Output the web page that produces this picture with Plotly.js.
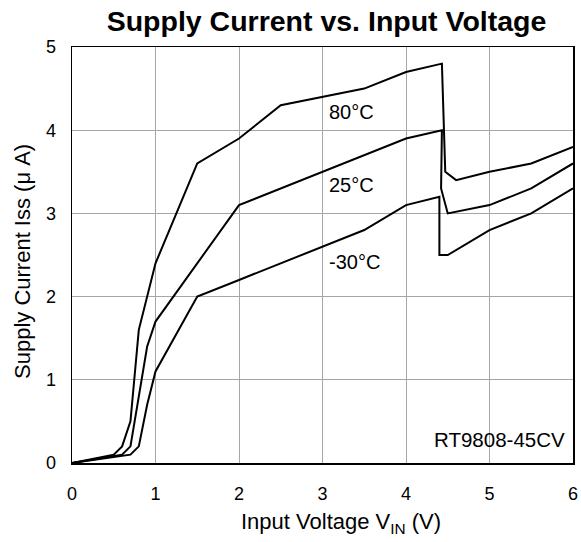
<!DOCTYPE html>
<html>
<head>
<meta charset="utf-8">
<script src="https://cdn.plot.ly/plotly-3.0.1.min.js"></script>
<style>html,body{margin:0;padding:0;background:#fff;}#chart{width:581px;height:542px;}</style>
</head>
<body>
<div id="chart"></div>
<script>
const v80 = [0, 0.5, 0.6, 0.7, 0.8, 1.0, 1.5, 2.0, 2.5, 3.5, 4.0, 4.43, 4.47, 4.6, 5.0, 5.5, 6.0];
const i80 = [0, 0.1, 0.2, 0.5, 1.6, 2.4, 3.6, 3.9, 4.3, 4.5, 4.7, 4.8, 3.5, 3.4, 3.5, 3.6, 3.8];

const v25 = [0, 0.6, 0.7, 0.9, 1.0, 2.0, 4.0, 4.43, 4.42, 4.5, 5.0, 5.5, 6.0];
const i25 = [0, 0.1, 0.2, 1.4, 1.7, 3.1, 3.9, 4.0, 3.3, 3.0, 3.1, 3.3, 3.6];

const vm30 = [0, 0.7, 0.8, 0.9, 1.0, 1.5, 2.0, 3.5, 4.0, 4.4, 4.4, 4.5, 5.0, 5.5, 6.0];
const im30 = [0, 0.1, 0.2, 0.7, 1.1, 2.0, 2.2, 2.8, 3.1, 3.2, 2.5, 2.5, 2.8, 3.0, 3.3];

const curveLabels = ["80°C", "25°C", "-30°C"];
const labelX = [3.05, 3.05, 3.05];
const labelY = [4.22, 3.34, 2.42];
const partName = "RT9808-45CV";
const chartTitle = "Supply Current vs. Input Voltage";
const xTitle = "Input Voltage V<sub>IN</sub> (V)";
const yTitle = "Supply Current Iss (μ A)";

const xTicks = [0, 1, 2, 3, 4, 5, 6];
const yTicks = [0, 1, 2, 3, 4, 5];

const FONT = "Liberation Sans, Arial, sans-serif";
const line = {color: "#000", width: 2};

const traces = [
  {x: v80, y: i80, mode: "lines", line: line, name: curveLabels[0]},
  {x: v25, y: i25, mode: "lines", line: line, name: curveLabels[1]},
  {x: vm30, y: im30, mode: "lines", line: line, name: curveLabels[2]}
];

const annotations = curveLabels.map((t, k) => ({
  x: labelX[k], y: labelY[k], xref: "x", yref: "y", text: t, showarrow: false,
  xanchor: "left", yanchor: "middle", font: {family: FONT, size: 20, color: "#000"}
}));
annotations.push({
  x: 5.93, y: 0.28, xref: "x", yref: "y", text: partName, showarrow: false,
  xanchor: "right", yanchor: "middle", font: {family: FONT, size: 20.5, color: "#000"}
});
// axis titles
annotations.push({
  x: 341 / 581, y: 1 - 523 / 542, xref: "paper", yref: "paper", text: xTitle, showarrow: false,
  xanchor: "center", yanchor: "middle", font: {family: FONT, size: 22, color: "#000"}
});
annotations.push({
  x: 22 / 581, y: 1 - 262 / 542, xref: "paper", yref: "paper", text: yTitle, showarrow: false,
  textangle: -90, xanchor: "center", yanchor: "middle", font: {family: FONT, size: 22, color: "#000"}
});
// convert paper coords (relative to plot area) from container fractions
const M = {l: 72, r: 8, t: 47, b: 79};
const PW = 581 - M.l - M.r, PH = 542 - M.t - M.b;
annotations.forEach(a => {
  if (a.xref === "paper") {
    a.x = (a.x * 581 - M.l) / PW;
    a.y = ((a.y * 542) - M.b) / PH;
  }
});

const layout = {
  width: 581, height: 542,
  margin: M,
  paper_bgcolor: "#fff", plot_bgcolor: "#fff",
  showlegend: false,
  font: {family: FONT, size: 18, color: "#000"},
  title: {text: "<b>" + chartTitle + "</b>", font: {family: FONT, size: 28.5, color: "#000"},
          x: 326.5 / 581, xanchor: "center", y: 1 - 21 / 542, yanchor: "middle", yref: "container"},
  xaxis: {
    range: [0, 6], tickvals: xTicks, ticktext: xTicks.map(String),
    showgrid: true, gridcolor: "#a6a6a6", gridwidth: 1,
    showline: true, mirror: true, linecolor: "#000", linewidth: 1.5,
    zeroline: false, ticks: "", ticklabelstandoff: 14,
    tickfont: {family: FONT, size: 18, color: "#000"}
  },
  yaxis: {
    range: [0, 5], tickvals: yTicks, ticktext: yTicks.map(String),
    showgrid: true, gridcolor: "#a6a6a6", gridwidth: 1,
    showline: true, mirror: true, linecolor: "#000", linewidth: 1.5,
    zeroline: false, ticks: "", ticklabelstandoff: 11,
    tickfont: {family: FONT, size: 18, color: "#000"}
  },
  annotations: annotations
};

Plotly.newPlot("chart", traces, layout, {displayModeBar: false, staticPlot: true});
</script>
</body>
</html>
